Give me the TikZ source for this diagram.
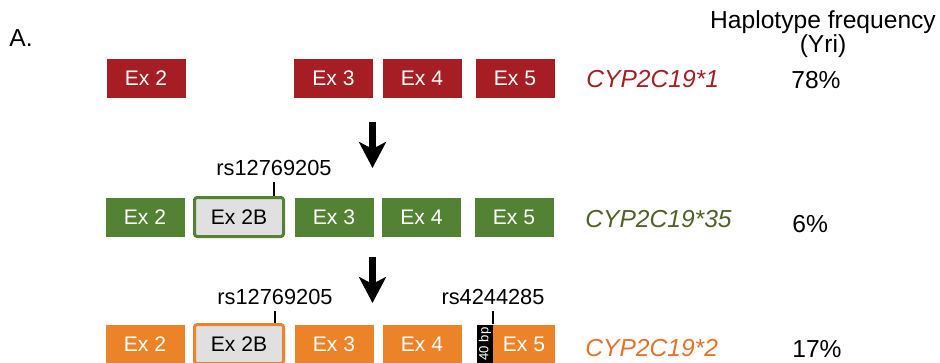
\documentclass[tikz,border=0pt]{standalone}
\usepackage{fontspec}
\setmainfont{Liberation Sans}
\usetikzlibrary{arrows.meta}

\definecolor{exred}{RGB}{166,29,35}
\definecolor{exgreen}{RGB}{84,130,53}
\definecolor{exorange}{RGB}{236,131,40}
\definecolor{txgreen}{RGB}{79,98,40}
\definecolor{txorange}{RGB}{232,112,40}
\definecolor{exgray}{RGB}{224,224,224}

\tikzset{
  exon/.style={rectangle, minimum width=1.58cm, minimum height=0.78cm, inner sep=0pt, text=white, font=\fontsize{12}{14}\selectfont},
  newexon/.style={rectangle, rounded corners=1.5pt, fill=exgray, line width=3pt*0.57, minimum width=1.78cm, minimum height=0.78cm, inner sep=0pt, font=\fontsize{12}{14}\selectfont},
  snp/.style={anchor=south, inner sep=0.12cm, font=\fontsize{12.4}{14}\selectfont},
  allele/.style={anchor=west, inner sep=0pt, font=\fontsize{14}{16}\selectfont\itshape},
  freq/.style={anchor=west, inner sep=0pt, font=\fontsize{14}{16}\selectfont},
  tick/.style={line width=1.2pt},
  bigarrow/.style={line width=4pt, -{Stealth[length=0.52cm, width=0.54cm, inset=0.14cm]}}
}

\begin{document}
\begin{tikzpicture}
\useasboundingbox (0,0) rectangle (18.8,-7.24);

\node[anchor=west, inner sep=0pt, font=\fontsize{14}{16}\selectfont] (lbl) at (0.18,-0.76) {A.};
\node[align=center, inner sep=0pt, font=\fontsize{14}{13.7}\selectfont] (head) at (16.46,-0.68) {Haplotype frequency\\(Yri)};

\node[exon, fill=exred] (a2) at (2.92,-1.56) {Ex 2};
\node[exon, fill=exred] (a3) at (6.67,-1.56) {Ex 3};
\node[exon, fill=exred] (a4) at (8.44,-1.56) {Ex 4};
\node[exon, fill=exred] (a5) at (10.30,-1.56) {Ex 5};
\node[allele, text=exred] (an) at (11.72,-1.58) {CYP2C19*1};
\node[freq] (af) at (15.82,-1.60) {78\%};

\coordinate (p1) at (7.45,-2.44);
\coordinate (q1) at (7.45,-3.36);
\draw[bigarrow] (p1) -- (q1);

\node[exon, fill=exgreen] (b2) at (2.90,-4.34) {Ex 2};
\node[newexon, draw=exgreen] (b2b) at (4.78,-4.34) {Ex 2B};
\node[exon, fill=exgreen] (b3) at (6.68,-4.34) {Ex 3};
\node[exon, fill=exgreen] (b4) at (8.43,-4.34) {Ex 4};
\node[exon, fill=exgreen] (b5) at (10.28,-4.34) {Ex 5};
\node[allele, text=txgreen] (bn) at (11.70,-4.38) {CYP2C19*35};
\node[freq] (bf) at (15.84,-4.48) {6\%};
\node[snp] (bs) at (5.48,-3.64) {rs12769205};
\draw[tick] (bs.south) -- (bs.south |- b2b.north);

\coordinate (p2) at (7.45,-5.14);
\coordinate (q2) at (7.45,-6.06);
\draw[bigarrow] (p2) -- (q2);

\node[exon, fill=exorange] (c2) at (2.90,-6.88) {Ex 2};
\node[newexon, draw=exorange] (c2b) at (4.78,-6.88) {Ex 2B};
\node[exon, fill=exorange] (c3) at (6.68,-6.88) {Ex 3};
\node[exon, fill=exorange] (c4) at (8.44,-6.88) {Ex 4};
\node[rectangle, fill=black, minimum width=0.78cm, minimum height=0.32cm, inner sep=0pt, text=white, font=\fontsize{7.5}{8}\selectfont, rotate=90] (c40) at (9.70,-6.88) {40 bp};
\node[exon, fill=exorange, minimum width=1.24cm] (c5) at (10.48,-6.88) {Ex 5};
\node[allele, text=txorange] (cn) at (11.70,-6.96) {CYP2C19*2};
\node[freq] (cf) at (15.84,-6.98) {17\%};
\node[snp] (cs) at (5.50,-6.22) {rs12769205};
\node[snp] (cs2) at (9.86,-6.22) {rs4244285};
\draw[tick] (cs.south) -- (cs.south |- c2b.north);
\draw[tick] (cs2.south) -- (cs2.south |- c5.north);
\end{tikzpicture}
\end{document}
